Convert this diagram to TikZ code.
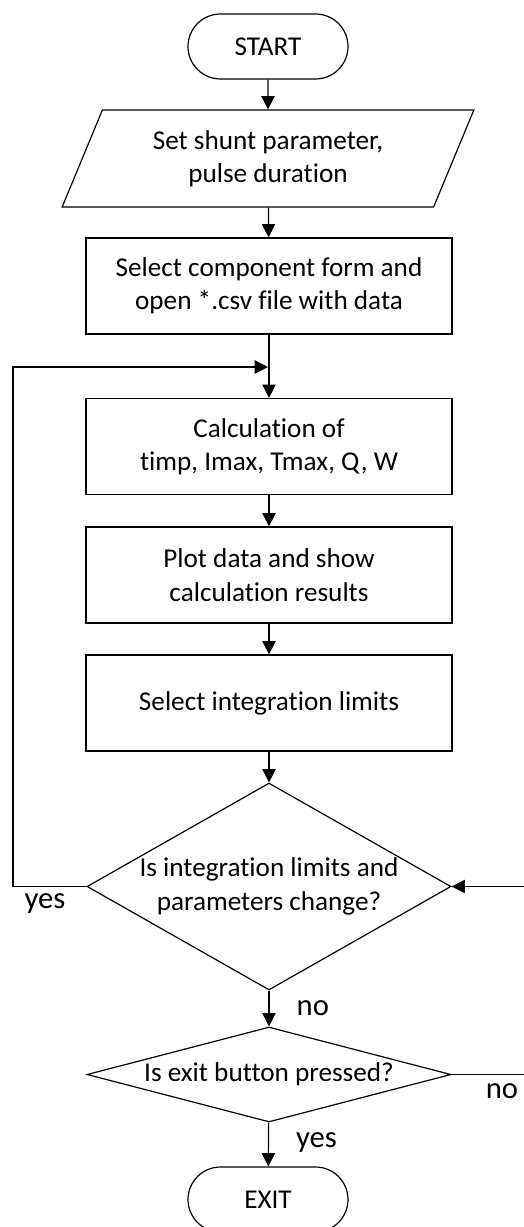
\documentclass[tikz,border=0pt]{standalone}
\usepackage{fontspec}
\setmainfont{Carlito}[Ligatures=NoCommon]
\usetikzlibrary{shapes.geometric,shapes.misc,arrows.meta}

\begin{document}
\begin{tikzpicture}[x=0.75pt, y=-0.75pt, line width=0.9pt,
	font=\fontsize{20.4}{25}\selectfont,
	term/.style={draw, rounded rectangle, minimum width=120pt, minimum height=48.75pt, inner sep=0pt},
	io/.style={draw, trapezium, trapezium left angle=63.7, trapezium right angle=116.3, trapezium stretches=true, minimum width=309pt, minimum height=72.75pt, inner sep=0pt, align=center},
	proc/.style={draw, rectangle, minimum width=274.5pt, minimum height=72pt, inner sep=0pt, align=center},
	dec/.style={draw, diamond, minimum width=273pt, inner sep=0pt, align=center},
	lbl/.style={font=\fontsize{23}{28}\selectfont},
	arr/.style={-{Triangle[width=10pt,length=10pt]}}]
	\useasboundingbox (0,0) rectangle (524,1227);

	% os blocos do fluxo
		\node[term] (start) at (268,46.5) {START};
		\node[io] (shunt) at (268,158.5) {Set shunt parameter,\\pulse duration};
		\node[proc] (open) at (269,286) {Select component form and\\open *.csv file with data};
		\node[proc] (calc) at (269,446.5) {Calculation of\\timp, Imax, Tmax, Q, W};
		\node[proc] (plot) at (269,575) {Plot data and show\\calculation results};
		\node[proc] (limits) at (269,703) {Select integration limits};
		\node[dec, minimum height=155.25pt, shape aspect=1.76] (change) at (269,886.5) {Is integration limits and\\parameters change?};
		\node[dec, minimum height=71.25pt, shape aspect=3.8] (exitq) at (269,1074.5) {Is exit button pressed?};
		\node[term] (exit) at (268,1199.5) {EXIT};

	% as setas
		\draw[arr] (start) -- (shunt);
		\draw[arr] (shunt) -- (open);
		\draw[arr] (open) -- (calc);
		\draw[arr] (calc) -- (plot);
		\draw[arr] (plot) -- (limits);
		\draw[arr] (limits) -- (change);
		\draw[arr] (change) -- node[lbl, right=17pt]{no} (exitq);
		\draw[arr] (exitq) -- node[lbl, right=17pt, pos=0.45]{yes} (exit);

	% os lacos
		\coordinate (back) at (268,367);
		\node[lbl] (yes) at (45,904) {yes};
		\draw[arr] (change.west) -- (13,886.5) -- (13,367) -- (back);
		\draw[arr] (exitq.east) -- node[lbl, below=3pt, pos=0.57]{no} (540,1074.5) -- (540,886.5) -- (change.east);
\end{tikzpicture}
\end{document}
